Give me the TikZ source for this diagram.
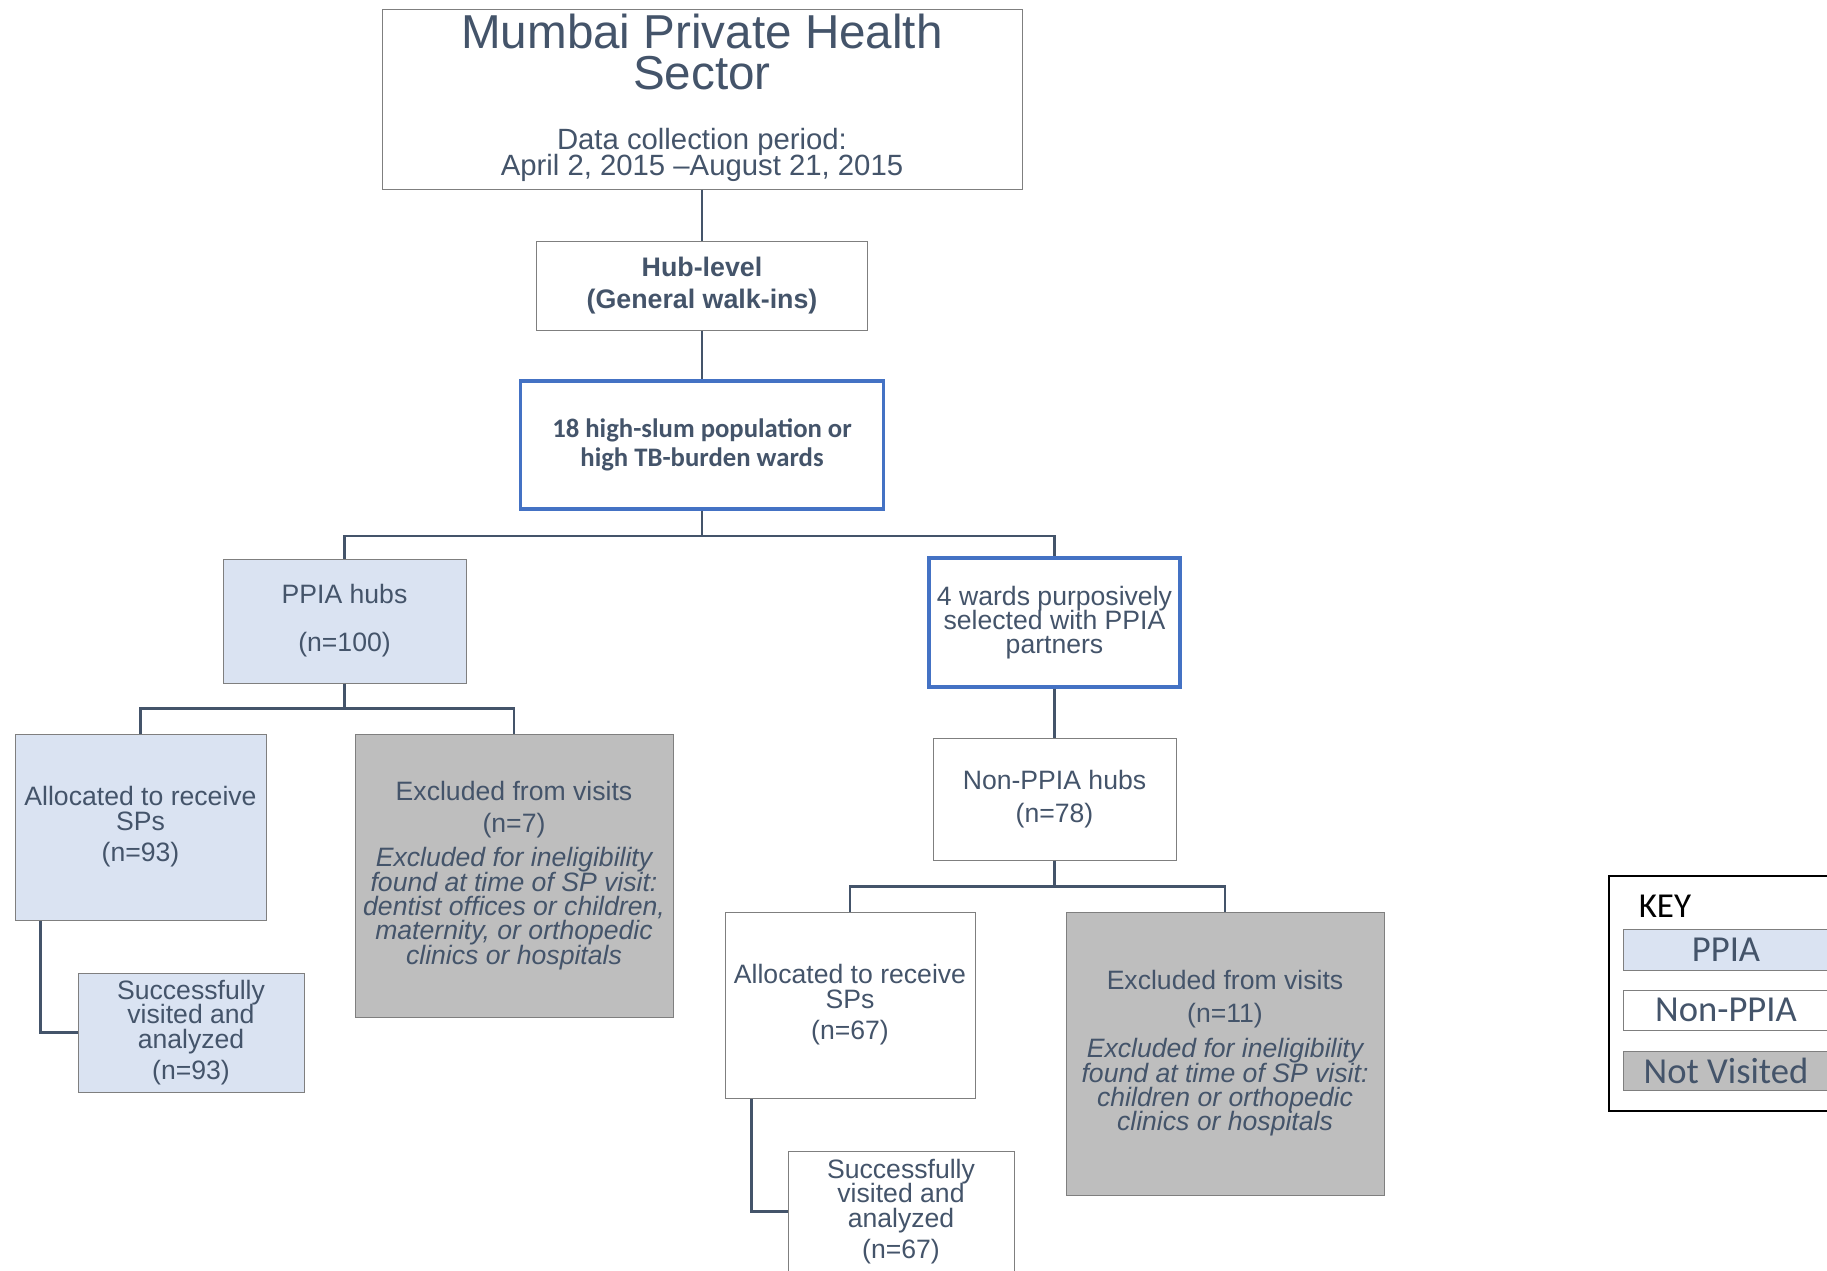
\documentclass[tikz,border=0pt]{standalone}
\usepackage{fontspec}
\setmainfont{Liberation Sans}
\newfontfamily\calibri{Carlito}
\lineskiplimit=-\maxdimen

\tikzset{every picture/.style={line width=0.75pt}}
\tikzset{
  txtcol/.style={color={rgb, 255:red, 68; green, 84; blue, 106 }},
  box/.style={draw={rgb, 255:red, 127; green, 127; blue, 127 }, line width=0.5pt, fill=white, inner sep=0pt, align=center, text={rgb, 255:red, 68; green, 84; blue, 106 }, font=\fontsize{13.3}{12.2}\selectfont},
  ppiabox/.style={box, fill={rgb, 255:red, 218; green, 227; blue, 242 }},
  notvisbox/.style={box, fill={rgb, 255:red, 190; green, 190; blue, 190 }},
  wardbox/.style={box, draw={rgb, 255:red, 68; green, 114; blue, 196 }, line width=1.6pt},
  keyitem/.style={minimum width=103pt, inner sep=0pt, font=\calibri\fontsize{18.3}{20}\selectfont},
  link/.style={draw={rgb, 255:red, 68; green, 84; blue, 106 }, line width=1.1pt},
}

\begin{document}
\begin{tikzpicture}[x=0.5pt,y=0.5pt,yscale=-1,xscale=1]
\useasboundingbox (0,0) rectangle (1827,1270);
\clip (0,0) rectangle (1827,1270);

%Shape: Rectangle
\node [box, minimum width=320pt, minimum height=90pt] (title) at (702,99) {};
% Text Node
\node [txtcol, align=center, inner sep=0pt, font=\fontsize{23.8}{20.8}\selectfont] (titlename) at (702,52) {Mumbai Private Health\\Sector};
% Text Node
\node [txtcol, align=center, inner sep=0pt, font=\fontsize{14.65}{13}\selectfont] (period) at (702,155) {Data collection period:\\April 2, 2015 –August 21, 2015};

%Shape: Rectangle
\node [box, minimum width=165.5pt, minimum height=44.5pt, font=\bfseries\fontsize{13.4}{15.7}\selectfont] (hub) at (702,285.5) {Hub-level\\(General walk-ins)};
%Shape: Rectangle
\node [wardbox, minimum width=181.5pt, minimum height=64pt, font=\calibri\bfseries\fontsize{13.35}{14.6}\selectfont] (wards) at (702,445) {18 high-slum population or\\high TB-burden wards};

%Shape: Rectangle
\node [ppiabox, minimum width=121.5pt, minimum height=62pt] (ppia) at (344.5,621) {PPIA hubs\\[11.8pt](n=100)};
%Shape: Rectangle
\node [wardbox, minimum width=125.5pt, minimum height=64.5pt, font=\fontsize{13.3}{12}\selectfont] (fourwards) at (1054.5,622.5) {4 wards purposively\\selected with PPIA\\partners};

%Shape: Rectangle
\node [ppiabox, minimum width=125.5pt, minimum height=93pt] (ppiaalloc) at (140.5,827) {Allocated to receive\\SPs\\[3.5pt](n=93)};
%Shape: Rectangle
\node [notvisbox, minimum width=159pt, minimum height=141.5pt] (ppiaexcl) at (514,875.5) {Excluded from visits\\[4pt](n=7)\\[4.7pt]{\itshape Excluded for ineligibility}\\{\itshape found at time of SP visit:}\\{\itshape dentist offices or children,}\\{\itshape maternity, or orthopedic}\\{\itshape clinics or hospitals}};
%Shape: Rectangle
\node [ppiabox, minimum width=113pt, minimum height=59.5pt] (ppiasucc) at (191,1032.5) {Successfully\\visited and\\analyzed\\[3.5pt](n=93)};

%Shape: Rectangle
\node [box, minimum width=121.5pt, minimum height=61pt] (nonppia) at (1054.5,799) {Non-PPIA hubs\\[4pt](n=78)};
%Shape: Rectangle
\node [box, minimum width=125pt, minimum height=93pt] (nonalloc) at (850,1005) {Allocated to receive\\SPs\\[3.5pt](n=67)};
%Shape: Rectangle
\node [notvisbox, minimum width=159pt, minimum height=141.5pt] (nonexcl) at (1225,1053.5) {Excluded from visits\\[4pt](n=11)\\[5.5pt]{\itshape Excluded for ineligibility}\\{\itshape found at time of SP visit:}\\{\itshape children or orthopedic}\\{\itshape clinics or hospitals}};
%Shape: Rectangle
\node [box, minimum width=113pt, minimum height=60.5pt] (nonsucc) at (901,1211.5) {Successfully\\visited and\\analyzed\\[3.5pt](n=67)};

%Straight Lines
\draw [link] (title.south) -- (hub.north);
\draw [link] (hub.south) -- (wards.north);
\draw [link] (wards.south) -- ++(0,25) -| (ppia.north);
\draw [link] (wards.south) -- ++(0,25) -| (fourwards.north);
\draw [link] (ppia.south) -- ++(0,25) -| (ppiaalloc.north);
\draw [link] (ppia.south) -- ++(0,25) -| (ppiaexcl.north);
\draw [link] ([xshift=13pt]ppiaalloc.south west) |- (ppiasucc.west);
\draw [link] (fourwards.south) -- (nonppia.north);
\draw [link] (nonppia.south) -- ++(0,26) -| (nonalloc.north);
\draw [link] (nonppia.south) -- ++(0,26) -| (nonexcl.north);
\draw [link] ([xshift=13.5pt]nonalloc.south west) |- (nonsucc.west);

%Shape: Rectangle
\node [draw, line width=1pt, minimum width=118pt, minimum height=117.5pt, inner sep=0pt] (key) at (1727,993.5) {};
% Text Node
\node [anchor=base west, inner sep=0pt, font=\calibri\fontsize{17.5}{20}\selectfont] (keytitle) at (1638,917) {KEY};
\node [ppiabox, keyitem, minimum height=20.5pt] (keyppia) at (1726,949.5) {PPIA};
\node [box, keyitem, minimum height=20pt] (keynon) at (1726,1010) {Non-PPIA};
\node [notvisbox, keyitem, minimum height=19.5pt] (keynot) at (1726,1070.5) {Not Visited};

\end{tikzpicture}
\end{document}
